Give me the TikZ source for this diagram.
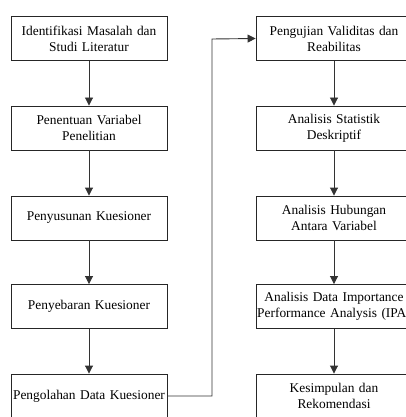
\documentclass[tikz,border=0pt]{standalone}
\usepackage{fontspec}
\setmainfont{Liberation Serif}
\usetikzlibrary{arrows.meta}
\begin{document}
\begin{tikzpicture}[x=1pt,y=-1pt,
  stepbox/.style={draw=black!85,line width=0.9pt,minimum width=156pt,minimum height=44pt,
    text width=156pt,align=center,inner sep=0pt,font=\fontsize{13.4}{16}\selectfont,text=black},
  conn/.style={draw=black!80,line width=0.9pt,-{Triangle[length=8pt,width=8pt]}}]
\useasboundingbox (0,0) rectangle (406,417);
\clip (0,0) rectangle (406,417);
\node[stepbox] (a1) at (89,38.5) {Identifikasi Masalah dan\\Studi Literatur};
\node[stepbox] (a2) at (89,128) {Penentuan Variabel\\Penelitian};
\node[stepbox] (a3) at (89,218) {Penyusunan Kuesioner};
\node[stepbox] (a4) at (89,306.5) {Penyebaran Kuesioner};
\node[stepbox] (a5) at (89,396) {Pengolahan Data Kuesioner};
\node[stepbox] (b1) at (334,38.5) {Pengujian Validitas dan\\Reabilitas};
\node[stepbox] (b2) at (334,128) {Analisis Statistik\\Deskriptif};
\node[stepbox] (b3) at (334,218) {Analisis Hubungan\\Antara Variabel};
\node[stepbox] (b4) at (334,306.5) {Analisis Data Importance\\Performance Analysis (IPA)};
\node[stepbox] (b5) at (334,396) {Kesimpulan dan\\Rekomendasi};
\draw[conn] (a1) -- (a2);
\draw[conn] (a2) -- (a3);
\draw[conn] (a3) -- (a4);
\draw[conn] (a4) -- (a5);
\draw[conn] (b1) -- (b2);
\draw[conn] (b2) -- (b3);
\draw[conn] (b3) -- (b4);
\draw[conn] (b4) -- (b5);
\coordinate (t1) at (212,396);
\coordinate (t2) at (212,39);
\draw[conn] (a5.east) -- (t1) -- (t2) -- (b1.west);
\end{tikzpicture}
\end{document}
